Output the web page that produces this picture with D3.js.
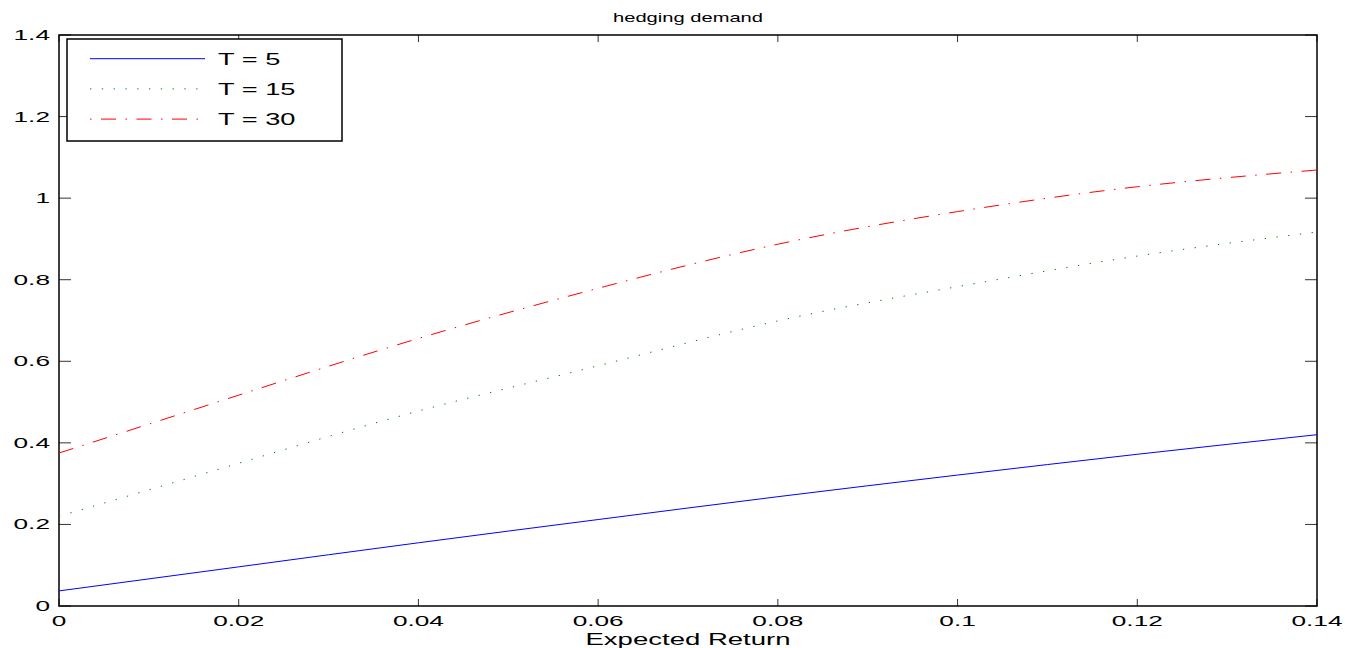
<!DOCTYPE html>
<html>
<head>
<meta charset="utf-8">
<script src="https://cdn.jsdelivr.net/npm/d3@7"></script>
<style>
  body { margin: 0; background: #fff; }
  text { font-family: "Liberation Sans", Arial, sans-serif; fill: #000; }
</style>
</head>
<body>
<script>
// expected return grid
const returns = [0, 0.02, 0.04, 0.06, 0.08, 0.10, 0.12, 0.14];
// hedging demand per horizon
const t5 = [0.037, 0.096, 0.155, 0.212, 0.268, 0.321, 0.372, 0.420];
const t15 = [0.220, 0.350, 0.478, 0.589, 0.699, 0.783, 0.858, 0.917];
const t30 = [0.375, 0.517, 0.656, 0.779, 0.887, 0.967, 1.028, 1.069];

const xTicks = [0, 0.02, 0.04, 0.06, 0.08, 0.1, 0.12, 0.14];
const yTicks = [0, 0.2, 0.4, 0.6, 0.8, 1, 1.2, 1.4];

const series = [
  { name: "T = 5", values: t5, color: "#0000ff", dash: null },
  { name: "T = 15", values: t15, color: "#008000", dash: "1.3,10.5" },
  { name: "T = 30", values: t30, color: "#ff0000", dash: "15,9.5,1.5,9.5" }
];

const width = 1345, height = 648;
const margin = { left: 59, right: 28, top: 35, bottom: 42 };

const svg = d3.select("body").append("svg")
    .attr("width", width)
    .attr("height", height);

const x = d3.scaleLinear().domain([0, 0.14]).range([margin.left, width - margin.right]);
const y = d3.scaleLinear().domain([0, 1.4]).range([height - margin.bottom, margin.top]);

const fmt = d => String(+d.toFixed(2));

// the original text is rendered wide, so stretch it horizontally
function wide(sel, px, py, sx) {
  return sel.attr("transform", (d, i) => `translate(${px(d, i)},${py(d, i)}) scale(${sx},1)`);
}

// ticks (inward, mirrored on top and right)
const g = svg.append("g").attr("stroke", "#333").attr("stroke-width", 1);
xTicks.forEach(t => {
  g.append("line").attr("x1", x(t)).attr("x2", x(t)).attr("y1", y(0)).attr("y2", y(0) - 7);
  g.append("line").attr("x1", x(t)).attr("x2", x(t)).attr("y1", y(1.4)).attr("y2", y(1.4) + 7);
});
yTicks.forEach(t => {
  g.append("line").attr("x1", x(0)).attr("x2", x(0) + 12).attr("y1", y(t)).attr("y2", y(t));
  g.append("line").attr("x1", x(0.14)).attr("x2", x(0.14) - 12).attr("y1", y(t)).attr("y2", y(t));
});

svg.append("rect")
    .attr("x", x(0)).attr("y", y(1.4))
    .attr("width", x(0.14) - x(0)).attr("height", y(0) - y(1.4))
    .attr("fill", "none").attr("stroke", "#000").attr("stroke-width", 1.5);

wide(svg.append("g").selectAll("text")
  .data(xTicks)
  .join("text")
    .attr("text-anchor", "middle")
    .attr("font-size", 15)
    .text(fmt), d => x(d), () => 626, 1.75);

wide(svg.append("g").selectAll("text")
  .data(yTicks)
  .join("text")
    .attr("text-anchor", "end")
    .attr("font-size", 15)
    .text(fmt), () => 50, d => y(d) + 5, 1.75);

wide(svg.append("text")
    .attr("text-anchor", "middle").attr("font-size", 17)
    .text("Expected Return"), () => (x(0) + x(0.14)) / 2, () => 645, 1.62);

wide(svg.append("text")
    .attr("text-anchor", "middle").attr("font-size", 13)
    .text("hedging demand"), () => (x(0) + x(0.14)) / 2, () => 22, 1.55);

const line = d3.line()
    .x((d, i) => x(returns[i]))
    .y(d => y(d))
    .curve(d3.curveNatural);

svg.append("g").selectAll("path")
  .data(series)
  .join("path")
    .attr("d", d => line(d.values))
    .attr("fill", "none")
    .attr("stroke", d => d.color)
    .attr("stroke-width", 1)
    .attr("stroke-dasharray", d => d.dash);

// legend
const legend = svg.append("g");
legend.append("rect")
    .attr("x", 67).attr("y", 39).attr("width", 275).attr("height", 102)
    .attr("fill", "#fff").attr("stroke", "#000").attr("stroke-width", 1.5);

const rows = legend.selectAll("g")
  .data(series)
  .join("g")
    .attr("transform", (d, i) => `translate(0,${58.7 + i * 30.2})`);

rows.append("line")
    .attr("x1", 90).attr("x2", 205)
    .attr("stroke", d => d.color)
    .attr("stroke-width", 1)
    .attr("stroke-dasharray", (d, i) => i === 2 ? "1.5,9.5,15,9.5" : d.dash);

wide(rows.append("text")
    .attr("font-size", 16.5)
    .text(d => d.name), () => 218, () => 6, 1.65);
</script>
</body>
</html>
